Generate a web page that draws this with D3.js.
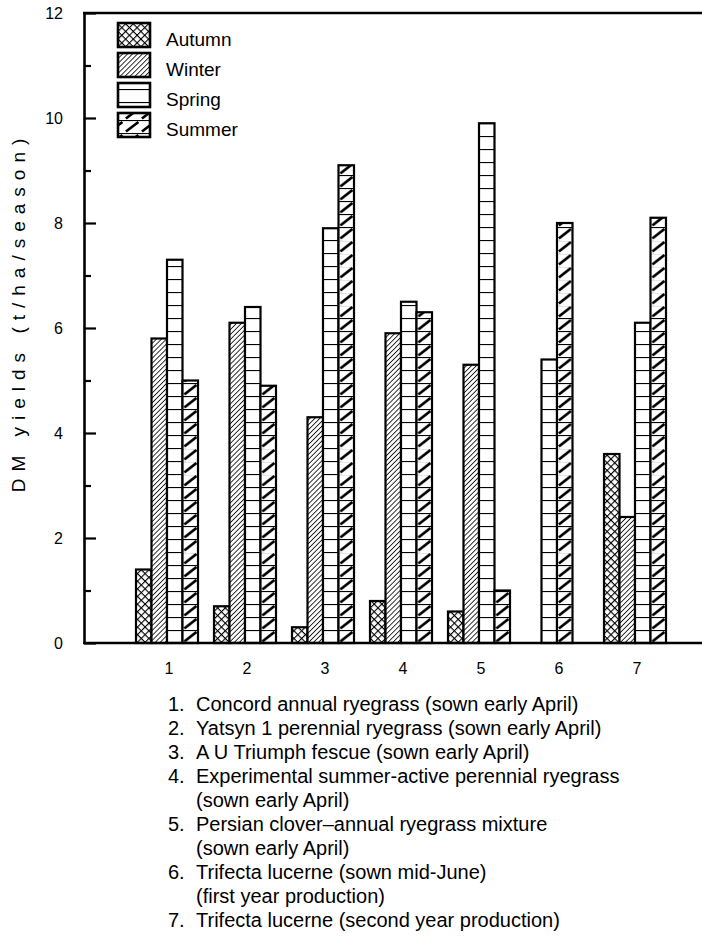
<!DOCTYPE html>
<html>
<head>
<meta charset="utf-8">
<script src="https://cdn.jsdelivr.net/npm/d3@7"></script>
<style>
  body { margin: 0; background: #fff; }
  svg { display: block; font-family: "Liberation Sans", Arial, Helvetica, sans-serif; }
</style>
</head>
<body>
<div id="chart"></div>
<script>
// treatments (x categories) and seasons (series)
var groups = ["1", "2", "3", "4", "5", "6", "7"];
var seasons = ["Autumn", "Winter", "Spring", "Summer"];

// DM yields (t/ha/season); null = no bar
var autumn = [1.4, 0.7, 0.3, 0.8, 0.6, null, 3.6];
var winter = [5.8, 6.1, 4.3, 5.9, 5.3, null, 2.4];
var spring = [7.3, 6.4, 7.9, 6.5, 9.9, 5.4, 6.1];
var summer = [5.0, 4.9, 9.1, 6.3, 1.0, 8.0, 8.1];

var yTicks = [0, 2, 4, 6, 8, 10, 12];
var yMinor = [1, 3, 5, 7, 9, 11];

var noteNums = ["1.", "2.", "3.", "4.", "5.", "6.", "7."];
var noteLines = [
  ["Concord annual ryegrass (sown early April)"],
  ["Yatsyn 1 perennial ryegrass (sown early April)"],
  ["A U Triumph fescue (sown early April)"],
  ["Experimental summer-active perennial ryegrass", "(sown early April)"],
  ["Persian clover\u2013annual ryegrass mixture", "(sown early April)"],
  ["Trifecta lucerne (sown mid-June)", "(first year production)"],
  ["Trifecta lucerne (second year production)"]
];

var series = [autumn, winter, spring, summer];

// svg container
var svgWidth = 702;
var svgHeight = 936;

var svg = d3.select("#chart").append("svg")
  .attr("width", svgWidth)
  .attr("height", svgHeight);

var axisX = 84;
var yScale = d3.scaleLinear().domain([0, 12]).range([643, 13]);
var xScale = d3.scalePoint().domain(groups).range([167, 635]);
var barW = 15.5;

// ---- hatch patterns ----
var defs = svg.append("defs");

var pAut = defs.append("pattern")
  .attr("id", "p-autumn")
  .attr("patternUnits", "userSpaceOnUse")
  .attr("width", 5.4).attr("height", 5.4)
  .attr("patternTransform", "rotate(45)");
pAut.append("rect").attr("width", 5.4).attr("height", 5.4).attr("fill", "#fff");
pAut.append("path").attr("d", "M0,0V5.4M0,0H5.4")
  .attr("stroke", "#000").attr("stroke-width", 2.2);

var pWin = defs.append("pattern")
  .attr("id", "p-winter")
  .attr("patternUnits", "userSpaceOnUse")
  .attr("width", 3.5).attr("height", 3.5)
  .attr("patternTransform", "rotate(45)");
pWin.append("rect").attr("width", 3.5).attr("height", 3.5).attr("fill", "#fff");
pWin.append("line").attr("x1", 0).attr("x2", 0).attr("y1", 0).attr("y2", 3.5)
  .attr("stroke", "#000").attr("stroke-width", 1.6);

var cellH = 13;
var pSpr = defs.append("pattern")
  .attr("id", "p-spring")
  .attr("patternUnits", "userSpaceOnUse")
  .attr("x", 0).attr("y", yScale(0))
  .attr("width", 10).attr("height", cellH);
pSpr.append("rect").attr("width", 10).attr("height", cellH).attr("fill", "#fff");
pSpr.append("line").attr("x1", 0).attr("x2", 10).attr("y1", 0).attr("y2", 0)
  .attr("stroke", "#000").attr("stroke-width", 2.2);

// summer cells: horizontal rule + one bold slash per cell, aligned to each bar
function summerPattern(id, x0, w, y0) {
  var p = defs.append("pattern")
    .attr("id", id)
    .attr("patternUnits", "userSpaceOnUse")
    .attr("x", x0).attr("y", y0)
    .attr("width", w).attr("height", cellH);
  p.append("rect").attr("width", w).attr("height", cellH).attr("fill", "#fff");
  p.append("line").attr("x1", 0).attr("x2", w).attr("y1", 0).attr("y2", 0)
    .attr("stroke", "#000").attr("stroke-width", 2.2);
  p.append("line").attr("x1", w * 0.12).attr("y1", cellH - 1.5)
    .attr("x2", w * 0.9).attr("y2", 2)
    .attr("stroke", "#000").attr("stroke-width", 2.8);
}

var fills = ["url(#p-autumn)", "url(#p-winter)", "url(#p-spring)", null];

// ---- build bar table from the arrays ----
var bars = [];
groups.forEach(function(g, i) {
  var present = seasons.filter(function(s, k) { return series[k][i] != null; });
  var inner = d3.scaleBand().domain(present)
    .range([-present.length * barW / 2, present.length * barW / 2]);
  present.forEach(function(s) {
    var k = seasons.indexOf(s);
    bars.push({ group: g, season: s, k: k, value: series[k][i],
                x: xScale(g) + inner(s) });
  });
});

bars.forEach(function(b, j) {
  if (b.k === 3) {
    b.fill = "url(#p-summer-" + j + ")";
    summerPattern("p-summer-" + j, b.x, barW, yScale(0));
  } else {
    b.fill = fills[b.k];
  }
});

// ---- frame and axes ----
svg.append("line")
  .attr("x1", axisX - 1).attr("x2", svgWidth)
  .attr("y1", yScale(12)).attr("y2", yScale(12))
  .attr("stroke", "#000").attr("stroke-width", 2.6);

var yAxis = d3.axisLeft(yScale)
  .tickValues(yTicks)
  .tickSizeInner(-12)
  .tickSizeOuter(0)
  .tickPadding(21);

var yG = svg.append("g")
  .attr("transform", "translate(" + axisX + ",0)")
  .call(yAxis);
yG.select(".domain").attr("stroke-width", 2.6);
yG.selectAll(".tick line").attr("stroke-width", 2.2);
yG.selectAll(".tick text")
  .attr("font-size", 16)
  .attr("font-family", "Liberation Sans, Arial, sans-serif")
  .attr("fill", "#000");

var yMinorG = svg.append("g")
  .attr("transform", "translate(" + axisX + ",0)")
  .call(d3.axisLeft(yScale).tickValues(yMinor).tickSizeInner(-7).tickSizeOuter(0).tickFormat(""));
yMinorG.select(".domain").remove();
yMinorG.selectAll(".tick line").attr("stroke-width", 2.2);

// bars
svg.append("g").selectAll(".bar")
  .data(bars)
  .enter()
  .append("rect")
  .classed("bar", true)
  .attr("x", function(d) { return d.x; })
  .attr("y", function(d) { return yScale(d.value); })
  .attr("width", barW)
  .attr("height", function(d) { return yScale(0) - yScale(d.value); })
  .attr("fill", function(d) { return d.fill; })
  .attr("stroke", "#000")
  .attr("stroke-width", 2.2);

// bottom axis line and category labels
svg.append("line")
  .attr("x1", axisX - 1).attr("x2", svgWidth)
  .attr("y1", yScale(0)).attr("y2", yScale(0))
  .attr("stroke", "#000").attr("stroke-width", 2.6);

var xG = svg.append("g")
  .attr("transform", "translate(1.5," + yScale(0) + ")")
  .call(d3.axisBottom(xScale).tickSize(0).tickPadding(20));
xG.select(".domain").remove();
xG.selectAll(".tick text")
  .attr("font-size", 16)
  .attr("font-family", "Liberation Sans, Arial, sans-serif")
  .attr("fill", "#000");

// y axis title
svg.append("text")
  .attr("transform", "translate(25,312) rotate(-90)")
  .attr("text-anchor", "middle")
  .attr("font-size", 19)
  .attr("letter-spacing", 7)
  .text("DM yields (t/ha/season)");

// legend
var legend = svg.append("g").selectAll(".leg")
  .data(seasons)
  .enter()
  .append("g")
  .classed("leg", true)
  .attr("transform", function(d, i) { return "translate(118," + (23 + i * 30) + ")"; });

summerPattern("p-summer-leg", 118, 16, 23 + 3 * 30 + 24);

legend.append("rect")
  .attr("width", 32)
  .attr("height", 24)
  .attr("fill", function(d, i) { return i === 3 ? "url(#p-summer-leg)" : fills[i]; })
  .attr("stroke", "#000")
  .attr("stroke-width", 2.6);

legend.append("text")
  .attr("x", 48)
  .attr("y", 23)
  .attr("font-size", 19)
  .text(function(d) { return d; });

// numbered notes under the chart
var noteRows = [];
noteLines.forEach(function(lines, i) {
  lines.forEach(function(t, j) {
    noteRows.push({ num: j === 0 ? noteNums[i] : "", text: t });
  });
});

var notesG = svg.append("g").attr("font-size", 20);
var rows = notesG.selectAll(".note")
  .data(noteRows)
  .enter()
  .append("g")
  .classed("note", true)
  .attr("transform", function(d, i) { return "translate(0," + (711 + i * 24) + ")"; });

rows.append("text").attr("x", 168).text(function(d) { return d.num; });
rows.append("text").attr("x", 196).text(function(d) { return d.text; });
</script>
</body>
</html>
